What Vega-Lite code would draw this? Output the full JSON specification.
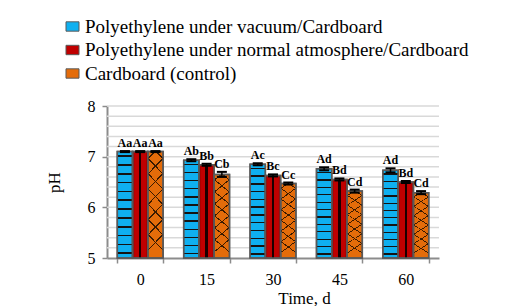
{
  "$schema": "https://vega.github.io/schema/vega-lite/v6.json",
  "width": 332,
  "height": 152,
  "autosize": {"type": "none"},
  "padding": {"left": 107, "top": 106, "right": 80, "bottom": 48},
  "background": "white",
  "config": {
    "view": {"stroke": null},
    "font": "Liberation Serif",
    "axisY": {"grid": false}
  },
  "datasets": {
    "grid": [
      {"g": 5.2}, {"g": 5.4}, {"g": 5.6}, {"g": 5.8}, {"g": 6.0},
      {"g": 6.2}, {"g": 6.4}, {"g": 6.6}, {"g": 6.8}, {"g": 7.0},
      {"g": 7.2}, {"g": 7.4}, {"g": 7.6}, {"g": 7.8}, {"g": 8.0}
    ],
    "ph": [
      {"time": "0", "series": "Polyethylene under vacuum/Cardboard", "ph": 7.10, "lo": 7.09, "hi": 7.11, "label": "Aa"},
      {"time": "0", "series": "Polyethylene under normal atmosphere/Cardboard", "ph": 7.10, "lo": 7.09, "hi": 7.11, "label": "Aa"},
      {"time": "0", "series": "Cardboard (control)", "ph": 7.10, "lo": 7.09, "hi": 7.11, "label": "Aa"},
      {"time": "15", "series": "Polyethylene under vacuum/Cardboard", "ph": 6.93, "lo": 6.91, "hi": 6.95, "label": "Ab"},
      {"time": "15", "series": "Polyethylene under normal atmosphere/Cardboard", "ph": 6.84, "lo": 6.82, "hi": 6.86, "label": "Bb"},
      {"time": "15", "series": "Cardboard (control)", "ph": 6.65, "lo": 6.60, "hi": 6.70, "label": "Cb"},
      {"time": "30", "series": "Polyethylene under vacuum/Cardboard", "ph": 6.85, "lo": 6.83, "hi": 6.87, "label": "Ac"},
      {"time": "30", "series": "Polyethylene under normal atmosphere/Cardboard", "ph": 6.63, "lo": 6.61, "hi": 6.65, "label": "Bc"},
      {"time": "30", "series": "Cardboard (control)", "ph": 6.47, "lo": 6.45, "hi": 6.49, "label": "Cc"},
      {"time": "45", "series": "Polyethylene under vacuum/Cardboard", "ph": 6.76, "lo": 6.73, "hi": 6.79, "label": "Ad"},
      {"time": "45", "series": "Polyethylene under normal atmosphere/Cardboard", "ph": 6.55, "lo": 6.53, "hi": 6.57, "label": "Bd"},
      {"time": "45", "series": "Cardboard (control)", "ph": 6.32, "lo": 6.29, "hi": 6.35, "label": "Cd"},
      {"time": "60", "series": "Polyethylene under vacuum/Cardboard", "ph": 6.73, "lo": 6.69, "hi": 6.77, "label": "Ad"},
      {"time": "60", "series": "Polyethylene under normal atmosphere/Cardboard", "ph": 6.50, "lo": 6.48, "hi": 6.52, "label": "Bd"},
      {"time": "60", "series": "Cardboard (control)", "ph": 6.29, "lo": 6.26, "hi": 6.32, "label": "Cd"}
    ]
  },
  "layer": [
    {
      "data": {"name": "grid"},
      "mark": {"type": "rule", "color": "#d9d9d9", "strokeWidth": 1.5},
      "encoding": {
        "y": {"field": "g", "type": "quantitative", "scale": {"domain": [5, 8], "nice": false, "zero": false}}
      }
    },
    {
      "data": {"name": "ph"},
      "encoding": {
        "x": {
          "field": "time", "type": "nominal", "sort": ["0", "15", "30", "45", "60"],
          "scale": {"paddingInner": 0.31, "paddingOuter": 0.155},
          "axis": {
            "title": "Time, d", "labelAngle": 0, "tickBand": "extent",
            "domainColor": "#8c8c8c", "domainWidth": 2, "tickColor": "#8c8c8c", "tickSize": 5, "tickWidth": 1.5,
            "labelFont": "Liberation Serif", "labelFontSize": 16, "labelColor": "black", "labelPadding": 8,
            "titleFont": "Liberation Serif", "titleFontSize": 17, "titleFontWeight": "normal", "titleColor": "black",
            "titleAnchor": "middle", "titleX": 197, "titlePadding": 3, "grid": false
          }
        },
        "xOffset": {
          "field": "series", "type": "nominal",
          "scale": {"domain": ["Polyethylene under vacuum/Cardboard", "Polyethylene under normal atmosphere/Cardboard", "Cardboard (control)"], "paddingInner": 0, "paddingOuter": 0}
        }
      },
      "layer": [
        {
          "mark": {"type": "bar", "stroke": "#595959", "strokeWidth": 1.5, "opacity": 1},
          "encoding": {
            "y": {
              "field": "ph", "type": "quantitative",
              "scale": {"domain": [5, 8], "nice": false, "zero": false},
              "axis": {
                "title": "pH",
                "values": [5, 6, 7, 8],
                "format": "d",
                "grid": false,
                "domainColor": "#8c8c8c", "domainWidth": 2, "tickColor": "#8c8c8c", "tickSize": 5, "tickWidth": 1.5,
                "labelFont": "Liberation Serif", "labelFontSize": 16, "labelColor": "black", "labelPadding": 7,
                "titleFont": "Liberation Serif", "titleFontSize": 17, "titleFontWeight": "normal", "titleColor": "black",
                "titlePadding": 24
              }
            },
            "y2": {"datum": 5},
            "color": {
              "field": "series", "type": "nominal",
              "scale": {
                "domain": ["Polyethylene under vacuum/Cardboard", "Polyethylene under normal atmosphere/Cardboard", "Cardboard (control)"],
                "range": ["#0fb0f0", "#c00000", "#e46c0a"]
              },
              "legend": {
                "orient": "none", "legendX": -44, "legendY": -89, "title": null, "padding": 0,
                "labelFont": "Liberation Serif", "labelFontSize": 19, "labelColor": "black", "labelLimit": 0,
                "rowPadding": 3.5, "symbolType": "M-1,-0.72H1V0.72H-1Z", "symbolSize": 169,
                "symbolStrokeColor": "#595959", "symbolStrokeWidth": 1, "symbolOpacity": 1, "labelOffset": 3
              }
            }
          }
        },
        {
          "transform": [{"filter": "datum.series === 'Polyethylene under vacuum/Cardboard'"}],
          "mark": {
            "type": "bar", "stroke": "#595959", "strokeWidth": 1.5,
            "fill": {"gradient": "linear", "x1": 0, "y1": 0, "x2": 0, "y2": 1, "stops": [
              {"offset": 0, "color": "rgba(0,0,0,0)"},
              {"offset": 0.035, "color": "rgba(0,0,0,0)"}, {"offset": 0.035, "color": "#141414"}, {"offset": 0.05, "color": "#141414"}, {"offset": 0.05, "color": "rgba(0,0,0,0)"},
              {"offset": 0.118, "color": "rgba(0,0,0,0)"}, {"offset": 0.118, "color": "#141414"}, {"offset": 0.133, "color": "#141414"}, {"offset": 0.133, "color": "rgba(0,0,0,0)"},
              {"offset": 0.201, "color": "rgba(0,0,0,0)"}, {"offset": 0.201, "color": "#141414"}, {"offset": 0.216, "color": "#141414"}, {"offset": 0.216, "color": "rgba(0,0,0,0)"},
              {"offset": 0.284, "color": "rgba(0,0,0,0)"}, {"offset": 0.284, "color": "#141414"}, {"offset": 0.299, "color": "#141414"}, {"offset": 0.299, "color": "rgba(0,0,0,0)"},
              {"offset": 0.367, "color": "rgba(0,0,0,0)"}, {"offset": 0.367, "color": "#141414"}, {"offset": 0.382, "color": "#141414"}, {"offset": 0.382, "color": "rgba(0,0,0,0)"},
              {"offset": 0.45, "color": "rgba(0,0,0,0)"}, {"offset": 0.45, "color": "#141414"}, {"offset": 0.465, "color": "#141414"}, {"offset": 0.465, "color": "rgba(0,0,0,0)"},
              {"offset": 0.533, "color": "rgba(0,0,0,0)"}, {"offset": 0.533, "color": "#141414"}, {"offset": 0.548, "color": "#141414"}, {"offset": 0.548, "color": "rgba(0,0,0,0)"},
              {"offset": 0.616, "color": "rgba(0,0,0,0)"}, {"offset": 0.616, "color": "#141414"}, {"offset": 0.631, "color": "#141414"}, {"offset": 0.631, "color": "rgba(0,0,0,0)"},
              {"offset": 0.699, "color": "rgba(0,0,0,0)"}, {"offset": 0.699, "color": "#141414"}, {"offset": 0.714, "color": "#141414"}, {"offset": 0.714, "color": "rgba(0,0,0,0)"},
              {"offset": 0.782, "color": "rgba(0,0,0,0)"}, {"offset": 0.782, "color": "#141414"}, {"offset": 0.797, "color": "#141414"}, {"offset": 0.797, "color": "rgba(0,0,0,0)"},
              {"offset": 0.865, "color": "rgba(0,0,0,0)"}, {"offset": 0.865, "color": "#141414"}, {"offset": 0.88, "color": "#141414"}, {"offset": 0.88, "color": "rgba(0,0,0,0)"},
              {"offset": 0.948, "color": "rgba(0,0,0,0)"}, {"offset": 0.948, "color": "#141414"}, {"offset": 0.963, "color": "#141414"}, {"offset": 0.963, "color": "rgba(0,0,0,0)"},
              {"offset": 1, "color": "rgba(0,0,0,0)"}
            ]}
          },
          "encoding": {"y": {"field": "ph", "type": "quantitative"}, "y2": {"datum": 5}}
        },
        {
          "transform": [{"filter": "datum.series === 'Polyethylene under normal atmosphere/Cardboard'"}],
          "mark": {
            "type": "bar", "stroke": "#595959", "strokeWidth": 1.5,
            "fill": {"gradient": "linear", "x1": 0, "y1": 0, "x2": 1, "y2": 0, "stops": [
              {"offset": 0, "color": "rgba(60,0,0,0.35)"},
              {"offset": 0.15, "color": "rgba(0,0,0,0)"},
              {"offset": 0.42, "color": "rgba(0,0,0,0)"}, {"offset": 0.42, "color": "#1a0000"},
              {"offset": 0.58, "color": "#1a0000"}, {"offset": 0.58, "color": "rgba(0,0,0,0)"},
              {"offset": 0.85, "color": "rgba(0,0,0,0)"},
              {"offset": 1, "color": "rgba(60,0,0,0.35)"}
            ]}
          },
          "encoding": {"y": {"field": "ph", "type": "quantitative"}, "y2": {"datum": 5}}
        },
        {
          "transform": [{"filter": "datum.series === 'Cardboard (control)'"}],
          "mark": {
            "type": "bar", "strokeWidth": 0,
            "fill": {"gradient": "linear", "x1": 0, "y1": 0, "x2": 0.15, "y2": 1, "stops": [
              {"offset": 0, "color": "rgba(0,0,0,0)"},
              {"offset": 0.06, "color": "rgba(0,0,0,0)"}, {"offset": 0.06, "color": "#3a1a00"}, {"offset": 0.074, "color": "#3a1a00"}, {"offset": 0.074, "color": "rgba(0,0,0,0)"},
              {"offset": 0.2, "color": "rgba(0,0,0,0)"}, {"offset": 0.2, "color": "#3a1a00"}, {"offset": 0.214, "color": "#3a1a00"}, {"offset": 0.214, "color": "rgba(0,0,0,0)"},
              {"offset": 0.34, "color": "rgba(0,0,0,0)"}, {"offset": 0.34, "color": "#3a1a00"}, {"offset": 0.354, "color": "#3a1a00"}, {"offset": 0.354, "color": "rgba(0,0,0,0)"},
              {"offset": 0.48, "color": "rgba(0,0,0,0)"}, {"offset": 0.48, "color": "#3a1a00"}, {"offset": 0.494, "color": "#3a1a00"}, {"offset": 0.494, "color": "rgba(0,0,0,0)"},
              {"offset": 0.62, "color": "rgba(0,0,0,0)"}, {"offset": 0.62, "color": "#3a1a00"}, {"offset": 0.634, "color": "#3a1a00"}, {"offset": 0.634, "color": "rgba(0,0,0,0)"},
              {"offset": 0.76, "color": "rgba(0,0,0,0)"}, {"offset": 0.76, "color": "#3a1a00"}, {"offset": 0.774, "color": "#3a1a00"}, {"offset": 0.774, "color": "rgba(0,0,0,0)"},
              {"offset": 0.9, "color": "rgba(0,0,0,0)"}, {"offset": 0.9, "color": "#3a1a00"}, {"offset": 0.914, "color": "#3a1a00"}, {"offset": 0.914, "color": "rgba(0,0,0,0)"},
              {"offset": 1, "color": "rgba(0,0,0,0)"}
            ]}
          },
          "encoding": {"y": {"field": "ph", "type": "quantitative"}, "y2": {"datum": 5}}
        },
        {
          "transform": [{"filter": "datum.series === 'Cardboard (control)'"}],
          "mark": {
            "type": "bar", "stroke": "#595959", "strokeWidth": 1.5,
            "fill": {"gradient": "linear", "x1": 1, "y1": 0, "x2": 0.85, "y2": 1, "stops": [
              {"offset": 0, "color": "rgba(0,0,0,0)"},
              {"offset": 0.06, "color": "rgba(0,0,0,0)"}, {"offset": 0.06, "color": "#3a1a00"}, {"offset": 0.074, "color": "#3a1a00"}, {"offset": 0.074, "color": "rgba(0,0,0,0)"},
              {"offset": 0.2, "color": "rgba(0,0,0,0)"}, {"offset": 0.2, "color": "#3a1a00"}, {"offset": 0.214, "color": "#3a1a00"}, {"offset": 0.214, "color": "rgba(0,0,0,0)"},
              {"offset": 0.34, "color": "rgba(0,0,0,0)"}, {"offset": 0.34, "color": "#3a1a00"}, {"offset": 0.354, "color": "#3a1a00"}, {"offset": 0.354, "color": "rgba(0,0,0,0)"},
              {"offset": 0.48, "color": "rgba(0,0,0,0)"}, {"offset": 0.48, "color": "#3a1a00"}, {"offset": 0.494, "color": "#3a1a00"}, {"offset": 0.494, "color": "rgba(0,0,0,0)"},
              {"offset": 0.62, "color": "rgba(0,0,0,0)"}, {"offset": 0.62, "color": "#3a1a00"}, {"offset": 0.634, "color": "#3a1a00"}, {"offset": 0.634, "color": "rgba(0,0,0,0)"},
              {"offset": 0.76, "color": "rgba(0,0,0,0)"}, {"offset": 0.76, "color": "#3a1a00"}, {"offset": 0.774, "color": "#3a1a00"}, {"offset": 0.774, "color": "rgba(0,0,0,0)"},
              {"offset": 0.9, "color": "rgba(0,0,0,0)"}, {"offset": 0.9, "color": "#3a1a00"}, {"offset": 0.914, "color": "#3a1a00"}, {"offset": 0.914, "color": "rgba(0,0,0,0)"},
              {"offset": 1, "color": "rgba(0,0,0,0)"}
            ]}
          },
          "encoding": {"y": {"field": "ph", "type": "quantitative"}, "y2": {"datum": 5}}
        },
        {
          "mark": {"type": "rule", "color": "black", "strokeWidth": 1.5},
          "encoding": {
            "y": {"field": "lo", "type": "quantitative"},
            "y2": {"field": "hi"}
          }
        },
        {
          "mark": {"type": "tick", "color": "black", "size": 10, "thickness": 2, "opacity": 1},
          "encoding": {"y": {"field": "hi", "type": "quantitative"}}
        },
        {
          "mark": {"type": "tick", "color": "black", "size": 10, "thickness": 2, "opacity": 1},
          "encoding": {"y": {"field": "lo", "type": "quantitative"}}
        },
        {
          "mark": {"type": "text", "font": "Liberation Serif", "fontSize": 12, "fontWeight": "bold", "color": "black", "baseline": "alphabetic", "align": "center", "dy": -4},
          "encoding": {
            "y": {"field": "hi", "type": "quantitative"},
            "text": {"field": "label"}
          }
        }
      ]
    }
  ]
}
